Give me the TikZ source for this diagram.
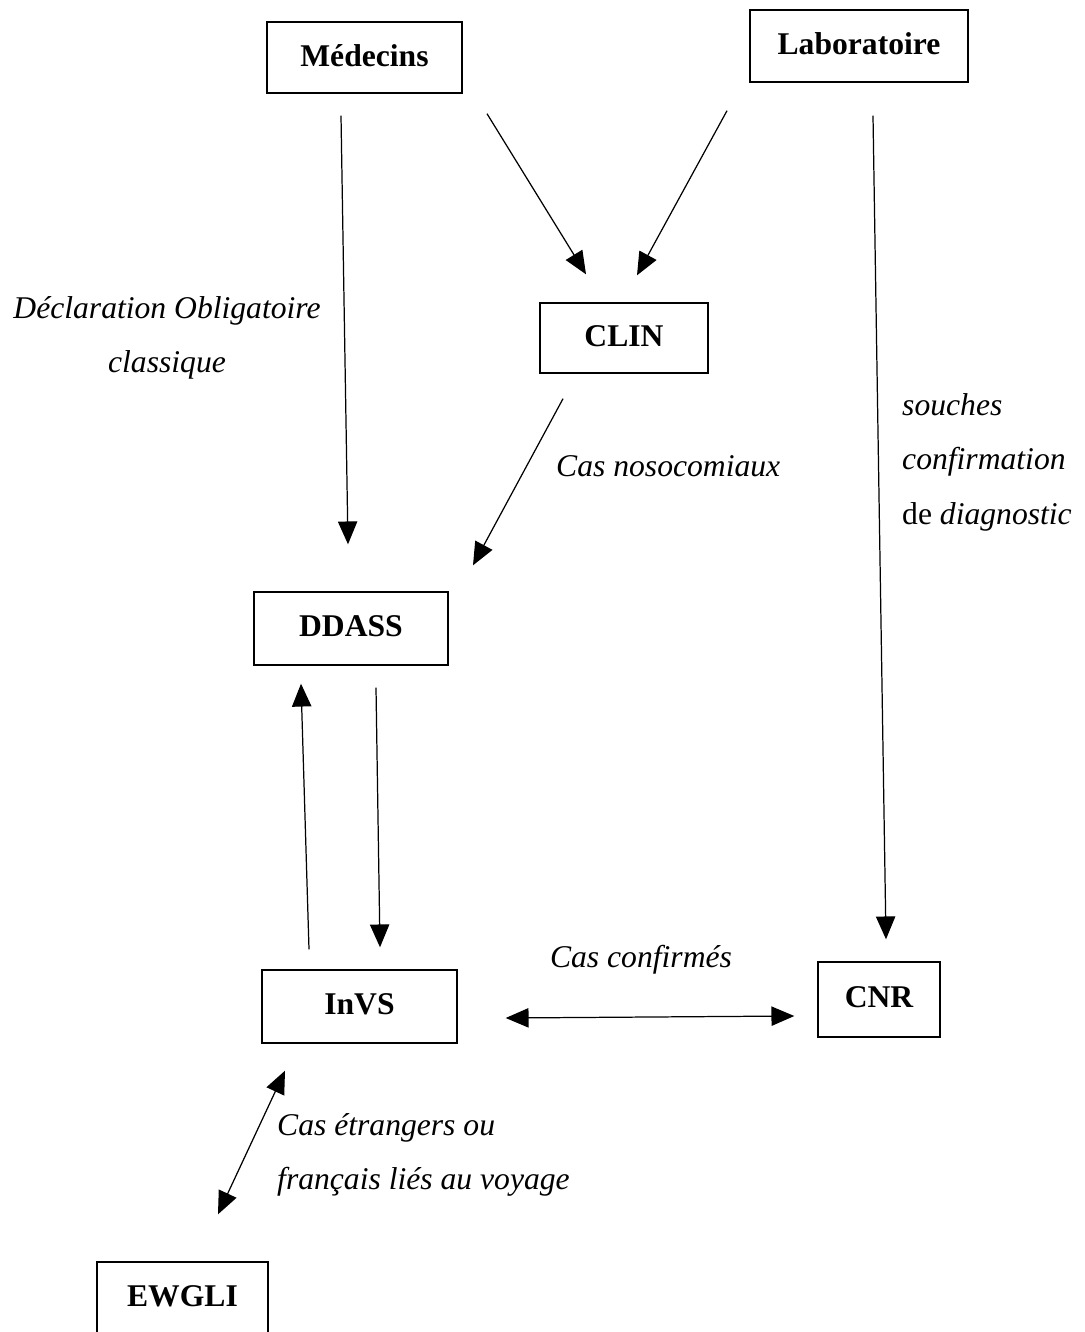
\documentclass[tikz,border=0pt]{standalone}
\usepackage{fontspec}
\setmainfont{Liberation Serif}
\usetikzlibrary{arrows.meta}

\begin{document}
\begin{tikzpicture}[x=0.02cm,y=-0.02cm,every node/.style={font=\fontsize{18}{31}\selectfont}]
  \tikzset{
    box/.style={draw,line width=0.8pt,inner sep=0pt,font=\fontsize{18}{22}\selectfont\bfseries},
    lbl/.style={font=\fontsize{18}{31}\selectfont\itshape},
    arr/.style={line width=0.7pt,-{Triangle[length=13pt,width=11pt]}},
    darr/.style={line width=0.7pt,{Triangle[length=13pt,width=11pt]}-{Triangle[length=13pt,width=11pt]}}
  }
  \useasboundingbox (0,0) rectangle (1085,1332);
  % boxes (pixel coordinates of the scan)
  \foreach \name/\txt/\x/\y/\w/\h in {med/Médecins/364.5/57.5/195/71,lab/Laboratoire/859/46/218/72,clin/CLIN/624/338/168/70,ddass/DDASS/351/628.5/194/73,invs/InVS/359.5/1006.5/195/73,cnr/CNR/879/999.5/122/75,ewgli/EWGLI/182.5/1298/171/72}
    \node[box,minimum width=\w*0.02cm,minimum height=\h*0.02cm] (\name) at (\x,\y) {\raisebox{2.5pt}{\txt}};
  % one-way arrows, ends kept off the boxes
  \foreach \u/\su/\v/\sv in {med.south/{-23.5,22}/ddass.north/{-3,-47},med.south/{122.5,20}/clin.north/{-38,-28},lab.south/{-132,28}/clin.north/{13,-27},lab.south/{14,33}/cnr.north/{7,-22},clin.south/{-61,25}/ddass.north/{122,-26},invs.north/{-50.5,-20}/ddass.south/{-50,18},ddass.south/{25,22}/invs.north/{20.5,-22}}
    \draw[arr] ([shift={(\su)}]\u) -- ([shift={(\sv)}]\v);
  \draw[darr] ([shift={(48,11.5)}]invs.east) -- ([shift={(-23,16.5)}]cnr.west);
  \draw[darr] ([shift={(-74.5,27)}]invs.south) -- ([shift={(35.5,-47)}]ewgli.north);
  % labels
  \node[lbl,align=center] (ldo) at (167,338) {Déclaration Obligatoire\\classique};
  \node[lbl,anchor=west] (lnoso) at (550,466) {Cas nosocomiaux};
  \node[lbl,anchor=west,align=left] (lcnr) at (896,462) {souches\\confirmation\\\upshape de \itshape diagnostic};
  \node[lbl] (lconf) at (641,960) {Cas confirmés};
  \node[lbl,anchor=west,align=left] (lvoy) at (271,1155) {Cas étrangers ou\\français liés au voyage};
\end{tikzpicture}
\end{document}
